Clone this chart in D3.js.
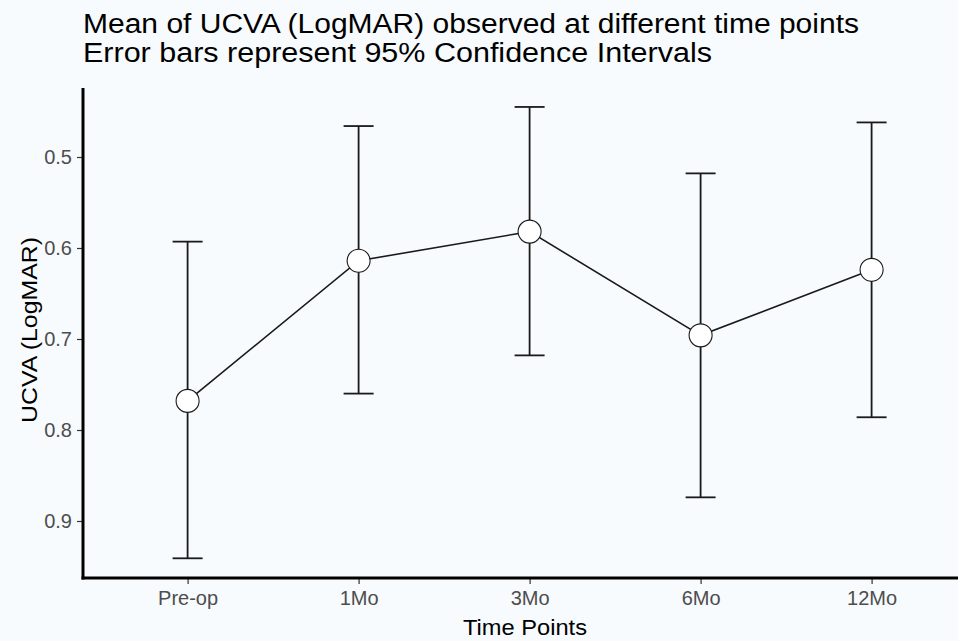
<!DOCTYPE html>
<html>
<head>
<meta charset="utf-8">
<script src="https://cdn.jsdelivr.net/npm/d3@7"></script>
<style>
  body { margin: 0; background: #f7fbfd; }
  svg { display: block; font-family: "Liberation Sans", Arial, sans-serif; }
</style>
</head>
<body>
<svg id="chart" width="958" height="641"></svg>
<script>
// data
const timePoints = ["Pre-op", "1Mo", "3Mo", "6Mo", "12Mo"];
const meanUcva = [0.768, 0.614, 0.582, 0.696, 0.624];
const ciLower = [0.593, 0.466, 0.445, 0.518, 0.462];
const ciUpper = [0.941, 0.760, 0.718, 0.874, 0.786];
const yTicks = [0.5, 0.6, 0.7, 0.8, 0.9];

const svg = d3.select("#chart")
const width = 958, height = 641
const margin = {top: 88, right: 0, bottom: 63, left: 83}

svg.append("rect").attr("width", width).attr("height", height).attr("fill", "#f7fbfd")

const rows = timePoints.map((t, i) => ({t: t, mean: meanUcva[i], lo: ciLower[i], hi: ciUpper[i]}))

// discrete x with ggplot-like 0.6 expansion, the right part is cut off in the original
const step = 171
const x = d3.scalePoint().domain(timePoints)
    .range([margin.left + 0.6 * step + 2, margin.left + 0.6 * step + 2 + 4 * step])

// reversed y: 0.5 at top
const y = d3.scaleLinear().domain([0.5, 0.9]).range([157, 521])

const g = svg.append("g")

// error bars
const bars = g.selectAll(".eb").data(rows).enter().append("g").attr("class", "eb")
    .attr("stroke", "#1a1a1a").attr("stroke-width", 1.8)
bars.append("line").attr("x1", d => x(d.t)).attr("x2", d => x(d.t))
    .attr("y1", d => y(d.lo)).attr("y2", d => y(d.hi))
bars.append("line").attr("x1", d => x(d.t) - 15).attr("x2", d => x(d.t) + 15)
    .attr("y1", d => y(d.lo)).attr("y2", d => y(d.lo))
bars.append("line").attr("x1", d => x(d.t) - 15).attr("x2", d => x(d.t) + 15)
    .attr("y1", d => y(d.hi)).attr("y2", d => y(d.hi))

// mean line
const line = d3.line().x(d => x(d.t)).y(d => y(d.mean))
g.append("path").datum(rows).attr("d", line)
    .attr("fill", "none").attr("stroke", "#1a1a1a").attr("stroke-width", 1.6)

g.selectAll(".pt").data(rows).enter().append("circle").attr("class", "pt")
    .attr("cx", d => x(d.t)).attr("cy", d => y(d.mean)).attr("r", 11.5)
    .attr("fill", "white").attr("stroke", "#1a1a1a").attr("stroke-width", 1.1)

// axes
const xAxis = svg.append("g").attr("transform", `translate(0,${height - margin.bottom})`)
    .call(d3.axisBottom(x).tickSize(6).tickPadding(7))
const yAxis = svg.append("g").attr("transform", `translate(${margin.left},0)`)
    .call(d3.axisLeft(y).tickValues(yTicks).tickFormat(d3.format(".1f")).tickSize(6).tickPadding(5))

;[xAxis, yAxis].forEach(a => {
    a.select(".domain").remove()
    a.selectAll(".tick line").attr("stroke", "#333").attr("stroke-width", 1.2)
    a.selectAll(".tick text").attr("fill", "#4d4d4d").style("font-size", "20px")
        .style("font-family", "'Liberation Sans', Arial, sans-serif")
})
// thick axis lines
svg.append("line").attr("x1", margin.left).attr("x2", margin.left)
    .attr("y1", margin.top).attr("y2", height - margin.bottom + 1.5)
    .attr("stroke", "black").attr("stroke-width", 3)
svg.append("line").attr("x1", margin.left - 1.5).attr("x2", width)
    .attr("y1", height - margin.bottom).attr("y2", height - margin.bottom)
    .attr("stroke", "black").attr("stroke-width", 3)

// titles (the original text is a bit wider than the font, so stretch it)
svg.append("text").attr("x", 83).attr("y", 33).attr("font-size", 27).attr("fill", "black")
    .attr("textLength", 776).attr("lengthAdjust", "spacingAndGlyphs")
    .text("Mean of UCVA (LogMAR) observed at different time points")
svg.append("text").attr("x", 83).attr("y", 62).attr("font-size", 27).attr("fill", "black")
    .attr("textLength", 629).attr("lengthAdjust", "spacingAndGlyphs")
    .text("Error bars represent 95% Confidence Intervals")
svg.append("text").attr("x", 463).attr("y", 635)
    .attr("font-size", 22).attr("fill", "black")
    .attr("textLength", 124).attr("lengthAdjust", "spacingAndGlyphs").text("Time Points")
svg.append("text").attr("transform", `translate(37,423) rotate(-90)`)
    .attr("font-size", 22).attr("fill", "black")
    .attr("textLength", 186).attr("lengthAdjust", "spacingAndGlyphs").text("UCVA (LogMAR)")
</script>
</body>
</html>
